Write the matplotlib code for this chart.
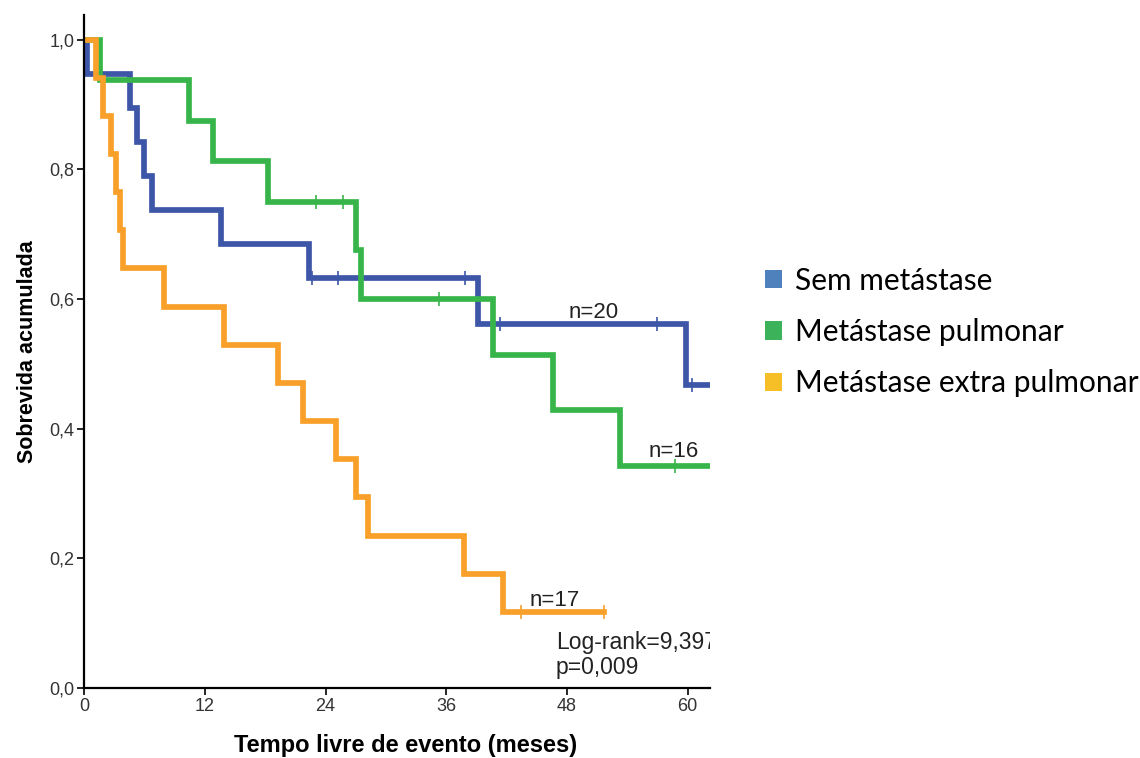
import numpy as np
import matplotlib
matplotlib.use("Agg")
import matplotlib.pyplot as plt
from matplotlib.patches import Patch

# Kaplan-Meier steps (time in months, cumulative survival)
sem_t = [0, 0.3, 4.6, 5.3, 6.0, 6.8, 13.6, 22.4, 39.2, 59.8]
sem_s = [1.0, 0.947, 0.895, 0.842, 0.789, 0.737, 0.684, 0.632, 0.562, 0.468]
sem_cens = [22.7, 25.2, 37.9, 41.3, 56.9, 60.4]
sem_end = 62.2

pul_t = [0, 1.6, 10.4, 12.8, 18.3, 27.0, 27.5, 40.6, 46.6, 53.3]
pul_s = [1.0, 0.9375, 0.875, 0.8125, 0.75, 0.675, 0.6, 0.514, 0.429, 0.343]
pul_cens = [23.1, 25.7, 35.3, 58.7]
pul_end = 62.2

ext_t = [0, 1.2, 1.9, 2.7, 3.2, 3.6, 3.9, 7.9, 13.9, 19.3, 21.8, 25.0, 27.0, 28.2, 37.8, 41.6]
ext_s = [1.0, 0.941, 0.882, 0.824, 0.765, 0.706, 0.647, 0.588, 0.529, 0.471, 0.412,
         0.353, 0.294, 0.235, 0.176, 0.118]
ext_cens = [43.4, 51.7]
ext_end = 51.7

labels = ["Sem metástase", "Metástase pulmonar", "Metástase extra pulmonar"]
line_colors = ["#3d56a8", "#38b54a", "#f8a02a"]
legend_colors = ["#4f81bd", "#3cb35a", "#f6be27"]
n_labels = ["n=20", "n=16", "n=17"]
n_pos = [(50.6, 0.571), (58.6, 0.356), (46.8, 0.126)]
stats_lines = ["Log-rank=9,397", "p=0,009"]
stats_y = [0.060, 0.022]

xticks = [0, 12, 24, 36, 48, 60]
yticks = [0.0, 0.2, 0.4, 0.6, 0.8, 1.0]

fig = plt.figure(figsize=(11.4, 7.58), dpi=100)
ax = fig.add_axes([0.0737, 0.0923, 0.549, 0.888])

groups = [(sem_t, sem_s, sem_cens, sem_end),
          (pul_t, pul_s, pul_cens, pul_end),
          (ext_t, ext_s, ext_cens, ext_end)]

for (t, s, cens, end), c in zip(groups, line_colors):
    tt = np.append(t, end)
    ss = np.append(s, s[-1])
    ax.step(tt, ss, where="post", color=c, lw=4.1, solid_joinstyle="miter")
    idx = np.searchsorted(t, cens, side="right") - 1
    ax.plot(cens, np.array(s)[idx], ls="none", marker="|", ms=10, mew=1.2, color=c)

for txt, (x, y) in zip(n_labels, n_pos):
    ax.text(x, y, txt, ha="center", va="baseline", fontsize=16,
            family="Liberation Sans", color="#222222")

for txt, y in zip(stats_lines, stats_y):
    ax.text(46.9, y, txt, ha="left", va="baseline", fontsize=16.5,
            family="Liberation Sans", color="#222222", clip_on=True)

ax.set_xlim(0, 62.2)
ax.set_ylim(0, 1.038)
ax.set_xticks(xticks)
ax.set_xticklabels([str(v) for v in xticks])
ax.set_yticks(yticks)
ax.set_yticklabels([f"{v:.1f}".replace(".", ",") for v in yticks])
for sp in ["top", "right"]:
    ax.spines[sp].set_visible(False)
for sp in ["left", "bottom"]:
    ax.spines[sp].set_linewidth(1.6)
ax.tick_params(direction="out", length=5, width=1.2, labelsize=13, pad=2)
for lab in ax.get_xticklabels() + ax.get_yticklabels():
    lab.set_family("Liberation Sans")
    lab.set_color("#333333")

ax.set_xlabel("Tempo livre de evento (meses)", fontsize=17, fontweight="bold",
              family="Liberation Sans", labelpad=12)
ax.xaxis.set_label_coords(0.513, -0.068)
ax.set_ylabel("Sobrevida acumulada", fontsize=15.5, fontweight="bold",
              family="Liberation Sans", labelpad=8)

handles = [Patch(facecolor=c, edgecolor="none") for c in legend_colors]
fig.legend(handles, labels, loc="upper left", bbox_to_anchor=(0.671, 0.648),
           frameon=False, prop={"family": "Lato", "size": 21.5},
           handlelength=0.57, handleheight=0.57, handletextpad=0.43,
           labelspacing=0.78, borderpad=0, borderaxespad=0)

fig.savefig("out.png", dpi=100)
